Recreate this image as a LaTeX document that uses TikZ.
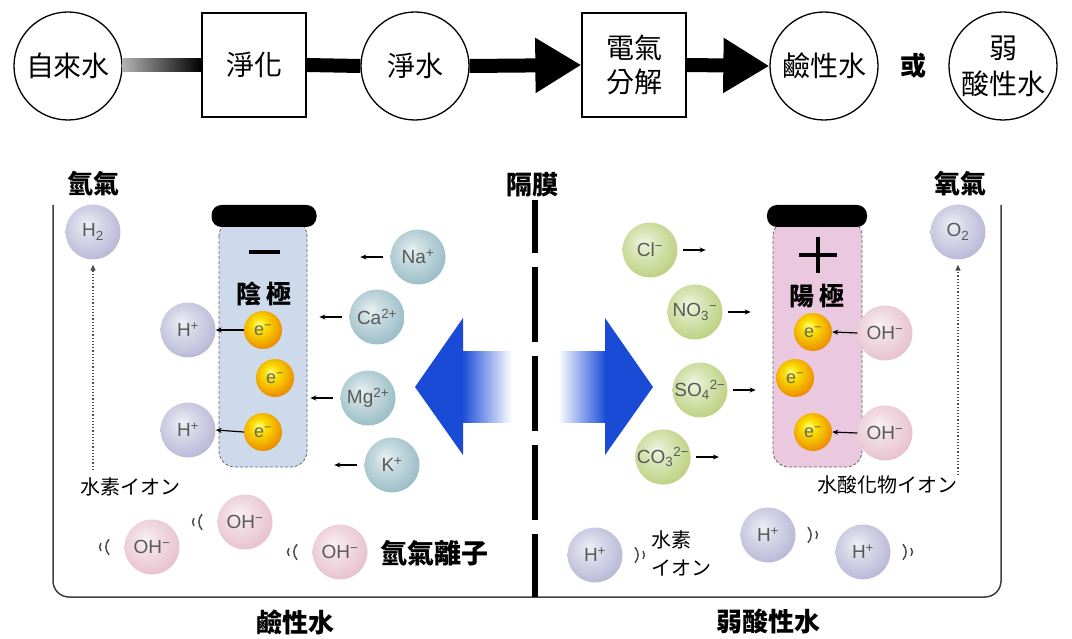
\documentclass[tikz,border=0pt]{standalone}
\usepackage{fontspec}
\setmainfont{Liberation Sans}
\newfontfamily\cjk{Noto Sans CJK TC}
\usetikzlibrary{arrows.meta,calc}

\definecolor{cationcol}{RGB}{125,170,182}
\definecolor{hydcol}{RGB}{165,165,204}
\definecolor{hydroxcol}{RGB}{224,176,192}
\definecolor{anioncol}{RGB}{170,196,92}
\definecolor{electroncol}{RGB}{236,138,0}
\definecolor{cathodecol}{RGB}{204,218,236}
\definecolor{anodecol}{RGB}{234,200,224}
\definecolor{flowblue}{RGB}{25,75,215}

% soft spheres for the ions
\newcommand\ionshading[2]{%
  \pgfdeclareradialshading{#1}{\pgfpoint{-6bp}{7bp}}{%
    color(0bp)=(#2!18!white); color(12bp)=(#2!45!white);
    color(30bp)=(#2!78!white); color(44bp)=(#2);
    color(50bp)=(#2!82!black); color(70bp)=(#2!82!black)}}
\ionshading{cationball}{cationcol}
\ionshading{hydball}{hydcol}
\ionshading{hydroxball}{hydroxcol}
\ionshading{anionball}{anioncol}
\pgfdeclareradialshading{electronball}{\pgfpoint{-6bp}{8bp}}{%
  color(0bp)=(yellow!50!white); color(10bp)=(yellow!70!electroncol);
  color(30bp)=(electroncol); color(50bp)=(electroncol!85!black);
  color(70bp)=(electroncol!85!black)}

\tikzset{
  wave/.style={line width=1.5pt,black!70},
  wavein/.pic={
    \draw[wave] (-6.3,3.9) arc[start angle=140,end angle=220,radius=6];
    \draw[wave] (1.8,7.8) arc[start angle=135,end angle=225,radius=11];
  },
  waveout/.pic={
    \draw[wave] (-1.8,-7.8) arc[start angle=-45,end angle=45,radius=11];
    \draw[wave] (6.3,-3.9) arc[start angle=-40,end angle=40,radius=6];
  },
}

\begin{document}
\begin{tikzpicture}[x=1pt,y=-1pt,
    stagecirc/.style={circle,draw,line width=1.3pt,minimum size=108pt,inner sep=0pt,
      align=center,font=\cjk\fontsize{28}{36}\selectfont},
    stagebox/.style={rectangle,draw,line width=1.3pt,minimum width=104pt,minimum height=104pt,
      inner sep=0pt,align=center,font=\cjk\fontsize{28}{34}\selectfont},
    flow/.style={line width=14pt},
    flowarrow/.style={line width=14pt,-{Triangle[length=46pt,width=52pt]}},
    title/.style={font=\cjk\bfseries\fontsize{26}{30}\selectfont},
    note/.style={font=\cjk\fontsize{20}{28}\selectfont,align=left},
    ion/.style={circle,minimum size=55pt,inner sep=0pt,text=black!65,
      font=\fontsize{19}{19}\selectfont},
    cation/.style={ion,shading=cationball},
    hydro/.style={ion,shading=hydball},
    hydrox/.style={ion,shading=hydroxball},
    anion/.style={ion,shading=anionball},
    electron/.style={ion,minimum size=38pt,shading=electronball,text=black!60,
      font=\fontsize{18}{18}\selectfont},
    electrodecap/.style={fill=black,rounded corners=10pt,minimum height=22pt,inner sep=0pt},
    push/.style={line width=1.2pt,-{Stealth[length=6pt,width=5pt]}},
    rise/.style={dotted,line width=1.2pt,black!70,-{Triangle[length=6pt,width=5pt]}},
  ]
  \useasboundingbox (0,0) rectangle (1072,639);
  \fill[white] (0,0) rectangle (1072,639);

  % process chain
  \node[stagecirc] at (68,66) (tap) {自來水};
  \node[stagebox] at (254,65) (purify) {淨化};
  \node[stagecirc] at (415,66) (pure) {淨水};
  \node[stagebox] at (634,65) (split) {電氣\\分解};
  \node[stagecirc] at (824,66) (alkali) {鹼性水};
  \node[font=\cjk\bfseries\fontsize{26}{30}\selectfont] at (913,66) (orword) {或};
  \node[stagecirc] at (1003,66) (acidic) {弱\\酸性水};
  \shade[left color=black!30,right color=black] ($(tap.east)+(0,-7)$) rectangle ($(purify.west)+(0,7)$);
  \draw[flow] (purify.east) -- (pure.west);
  \draw[flowarrow] (pure.east) -- (split.west);
  \draw[flowarrow] (split.east) -- (alkali.west);

  % cell and membrane
  \draw[line width=1.5pt,black!75,rounded corners=16pt] (53,205) -- (53,597) -- (1001,597) -- (1001,205);
  \coordinate (memtop) at (535,200);
  \coordinate (membot) at (535,597);
  \draw[line width=6pt,dash pattern=on 75pt off 14pt,dash phase=22pt] (memtop) -- (membot);
  \node[title] at (532,185) (memname) {隔膜};
  \node[title] at (93,184) (hgas) {氫氣};
  \node[title] at (960,184) (ogas) {氧氣};
  \node[title] at (295,622) (alkname) {鹼性水};
  \node[title] at (768,622) (acidname) {弱酸性水};

  % blue flow arrows through the membrane
  \fill[flowblue] (415,387) -- (463,318) -- (463,455) -- cycle;
  \shade[left color=flowblue,right color=white] (462,352) rectangle (512,422);
  \shade[left color=white,right color=flowblue] (558,352) rectangle (606,422);
  \fill[flowblue] (605,318) -- (653,387) -- (605,455) -- cycle;

  % cathode
  \filldraw[fill=cathodecol,draw=black!60,densely dashed,line width=0.8pt,rounded corners=16pt]
    (219,220) rectangle (307,467);
  \node[electrodecap,minimum width=105pt] at (264,216) (cathcap) {};
  \draw[line width=3.5pt] (249,252) -- (280,252);
  \node[title,font=\cjk\bfseries\fontsize{25}{30}\selectfont] at (264,294) (cathname) {陰\hspace{5pt}極};

  % anode
  \filldraw[fill=anodecol,draw=black!60,densely dashed,line width=0.8pt,rounded corners=16pt]
    (773,220) rectangle (862,467);
  \node[electrodecap,minimum width=100pt] at (817,216) (anocap) {};
  \draw[line width=4pt] (799,255) -- (837,255) (818,237) -- (818,273);
  \node[title,font=\cjk\bfseries\fontsize{25}{30}\selectfont] at (817,296) (anoname) {陽\hspace{5pt}極};

  % cathode side
  \node[hydro] at (93,232) (htwo) {H\textsubscript{2}};
  \coordinate (hrise) at (93,470);
  \draw[rise,shorten >=5pt] (hrise) -- (htwo.south);
  \node[cation] at (418,257) (na) {Na\textsuperscript{+}};
  \node[cation] at (377,317) (ca) {Ca\textsuperscript{2+}};
  \node[cation] at (368,398) (mg) {Mg\textsuperscript{2+}};
  \node[cation] at (392,465) (k) {K\textsuperscript{+}};
  \foreach \ion in {na,ca,mg,k}
    \draw[push] ([xshift=-7pt]\ion.west) -- ++(-23,0);
  \node[hydro] at (188,330) (hpa) {H\textsuperscript{+}};
  \node[hydro] at (188,430) (hpb) {H\textsuperscript{+}};
  \node[electron] at (263,330) (eca) {e\textsuperscript{−}};
  \node[electron] at (275,378) (ecb) {e\textsuperscript{−}};
  \node[electron] at (263,432) (ecc) {e\textsuperscript{−}};
  \draw[push] (eca.west) -- (hpa.east);
  \draw[push] (ecc.west) -- (hpb.east);
  \node[note] at (130,487) (hname) {水素イオン};
  \node[hydrox] at (152,547) (oha) {OH\textsuperscript{−}};
  \node[hydrox] at (245,522) (ohb) {OH\textsuperscript{−}};
  \node[hydrox] at (340,552) (ohc) {OH\textsuperscript{−}};
  \foreach \ion in {oha,ohb,ohc}
    \pic at ($(\ion.west)+(-17,0)$) {wavein};
  \node[title,font=\cjk\bfseries\fontsize{27}{30}\selectfont] at (434,553) (ohname) {氫氣離子};

  % anode side
  \node[hydro] at (958,232) (otwo) {O\textsubscript{2}};
  \coordinate (orise) at (958,475);
  \draw[rise,shorten >=5pt] (orise) -- (otwo.south);
  \node[anion] at (650,250) (cl) {Cl\textsuperscript{−}};
  \node[anion] at (695,312) (nothree) {NO\textsubscript{3}\textsuperscript{−}};
  \node[anion] at (700,390) (sofour) {SO\textsubscript{4}\textsuperscript{2−}};
  \node[anion] at (663,457) (cothree) {CO\textsubscript{3}\textsuperscript{2−}};
  \foreach \ion in {cl,nothree,sofour,cothree}
    \draw[push] ([xshift=5pt]\ion.east) -- ++(23,0);
  \node[electron] at (813,332) (eaa) {e\textsuperscript{−}};
  \node[electron] at (795,378) (eab) {e\textsuperscript{−}};
  \node[electron] at (813,432) (eac) {e\textsuperscript{−}};
  \node[hydrox] at (885,333) (ohra) {OH\textsuperscript{−}};
  \node[hydrox] at (885,433) (ohrb) {OH\textsuperscript{−}};
  \draw[push] (ohra.west) -- (eaa.east);
  \draw[push] (ohrb.west) -- (eac.east);
  \node[note] at (887,485) (ohrname) {水酸化物イオン};
  \node[hydro] at (595,555) (hra) {H\textsuperscript{+}};
  \node[hydro] at (768,535) (hrb) {H\textsuperscript{+}};
  \node[hydro] at (863,552) (hrc) {H\textsuperscript{+}};
  \foreach \ion in {hra,hrb,hrc}
    \pic at ($(\ion.east)+(14,0)$) {waveout};
  \node[note,anchor=west] at (648,553) (hrname) {水素\\イオン};
\end{tikzpicture}
\end{document}
